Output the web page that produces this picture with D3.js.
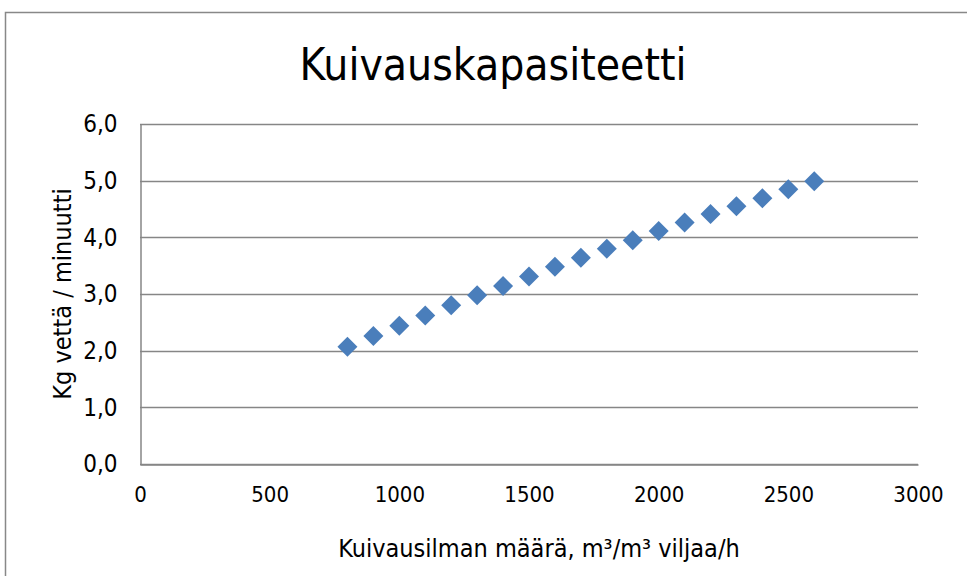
<!DOCTYPE html>
<html>
<head>
<meta charset="utf-8">
<script src="https://cdn.jsdelivr.net/npm/d3@7"></script>
<style>
  body { margin: 0; background: #fff; }
  text { font-family: "DejaVu Sans Condensed", "Liberation Sans Narrow", sans-serif; fill: #000; }
</style>
</head>
<body>
<div id="chart"></div>
<script>
// Data
const airflow = [800, 900, 1000, 1100, 1200, 1300, 1400, 1500, 1600, 1700,
                 1800, 1900, 2000, 2100, 2200, 2300, 2400, 2500, 2600];
const waterKg = [2.07, 2.26, 2.44, 2.62, 2.80, 2.98, 3.14, 3.31, 3.48, 3.64,
                 3.80, 3.95, 4.11, 4.26, 4.41, 4.55, 4.69, 4.85, 4.99];
const xTicks = [0, 500, 1000, 1500, 2000, 2500, 3000];
const yTicks = [0, 1, 2, 3, 4, 5, 6];

const width = 967, height = 576;
const margin = { left: 140, top: 124, right: 49, bottom: 112 };

let svg = d3.select("#chart").append("svg")
  .attr("width", width)
  .attr("height", height);

// chart frame
svg.append("rect")
  .attr("x", 5.5).attr("y", 12.5)
  .attr("width", 980).attr("height", 600)
  .attr("fill", "none")
  .attr("stroke", "#888")
  .attr("stroke-width", 1.5);

let x = d3.scaleLinear().domain([0, 3000]).range([margin.left, width - margin.right]);
let y = d3.scaleLinear().domain([0, 6]).range([height - margin.bottom, margin.top]);

// gridlines
svg.append("g")
  .selectAll("line")
  .data(yTicks)
  .enter().append("line")
  .attr("x1", x(0)).attr("x2", x(3000))
  .attr("y1", d => Math.round(y(d)) + 0.5)
  .attr("y2", d => Math.round(y(d)) + 0.5)
  .attr("stroke", "#868686")
  .attr("stroke-width", 1.5);

// y axis
let yAxis = svg.append("g")
  .attr("transform", "translate(" + (Math.round(x(0)) + 0.5) + ",0)")
  .call(d3.axisLeft(y).tickValues(yTicks).tickSize(0).tickPadding(23)
    .tickFormat(d => d3.format(".1f")(d).replace(".", ",")));
yAxis.select(".domain").attr("stroke", "#868686").attr("stroke-width", 1.5);
yAxis.selectAll("text").style("font-size", "24px").attr("fill", "#000");

// x axis
let xAxis = svg.append("g")
  .attr("transform", "translate(0," + (Math.round(y(0)) + 0.5) + ")")
  .call(d3.axisBottom(x).tickValues(xTicks).tickSize(0).tickPadding(22)
    .tickFormat(d3.format("d")));
xAxis.select(".domain").attr("stroke", "#868686").attr("stroke-width", 1.5);
xAxis.selectAll("text").style("font-size", "22px").attr("fill", "#000");

// points
svg.append("g")
  .selectAll("path")
  .data(airflow)
  .enter().append("path")
  .attr("d", d3.symbol().type(d3.symbolSquare).size(200))
  .attr("transform", (d, i) => "translate(" + x(d) + "," + y(waterKg[i]) + ") rotate(45)")
  .attr("fill", "#4a7ebb");

// titles
svg.append("text")
  .attr("x", 493).attr("y", 80)
  .attr("text-anchor", "middle")
  .style("font-size", "44px")
  .text("Kuivauskapasiteetti");

svg.append("text")
  .attr("x", 539).attr("y", 557)
  .attr("text-anchor", "middle")
  .style("font-size", "25px")
  .text("Kuivausilman määrä, m³/m³ viljaa/h");

svg.append("text")
  .attr("transform", "translate(71,294) rotate(-90)")
  .attr("text-anchor", "middle")
  .style("font-size", "25px")
  .text("Kg vettä / minuutti");
</script>
</body>
</html>
